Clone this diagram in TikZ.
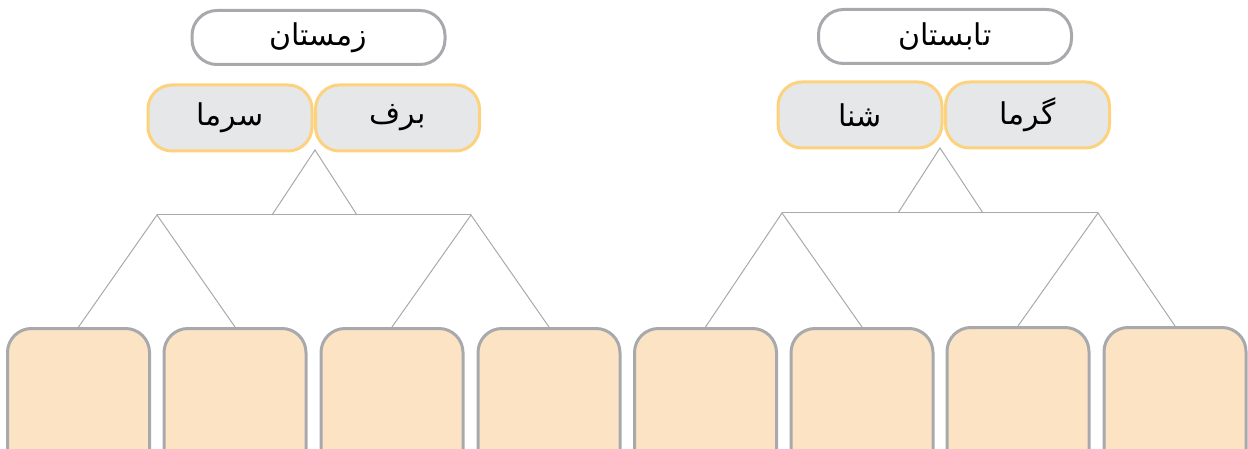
\documentclass[tikz,border=0pt]{standalone}
\usepackage{fontspec}
\newfontfamily\arabicfont[Script=Arabic]{DejaVu Sans}
\TeXXeTstate=1
\definecolor{boxgray}{HTML}{A7A9AC}
\definecolor{midfill}{HTML}{E6E7E8}
\definecolor{midline}{HTML}{FDD27F}
\definecolor{botfill}{HTML}{FCE3C4}
\tikzset{
  titlebox/.style={draw=boxgray,line width=3pt,fill=white,rounded corners=25pt,minimum width=253pt,minimum height=54pt,inner sep=0pt,font=\arabicfont\fontsize{30}{34}\selectfont},
  wordbox/.style={draw=midline,line width=3pt,fill=midfill,rounded corners=24pt,minimum width=164pt,minimum height=66pt,inner sep=0pt,font=\arabicfont\fontsize{30}{34}\selectfont},
  emptybox/.style={draw=boxgray,line width=3pt,fill=botfill,rounded corners=24pt,minimum width=142pt,minimum height=150pt,inner sep=0pt,anchor=north},
  link/.style={draw=boxgray,line width=1pt}
}
\begin{document}
\begin{tikzpicture}[x=1pt,y=-1pt]
\useasboundingbox (0,0) rectangle (1248,449);
\clip (0,0) rectangle (1248,449);
% top boxes
\node[titlebox] (zemestan) at (318.5,37.5) {\beginR زمستان\endR};
\node[titlebox] (tabestan) at (945,36.5) {\beginR تابستان\endR};
% word boxes
\node[wordbox] (sarma) at (230,118) {\beginR سرما\endR};
\node[wordbox] (barf) at (397.5,118) {\beginR برف\endR};
\node[wordbox] (shena) at (860,115) {\beginR شنا\endR};
\node[wordbox] (garma) at (1027.5,115) {\beginR گرما\endR};
% bottom boxes
\node[emptybox] (b1) at (78.5,327) {};
\node[emptybox] (b2) at (235,327) {};
\node[emptybox] (b3) at (392,327) {};
\node[emptybox] (b4) at (549,327) {};
\node[emptybox] (b5) at (705.5,327) {};
\node[emptybox] (b6) at (862,327) {};
\node[emptybox] (b7) at (1018,326) {};
\node[emptybox] (b8) at (1175,326) {};
% left tree
\coordinate (apexL) at (315,150);
\coordinate (tL1) at (272,215);
\coordinate (tL2) at (357,215);
\coordinate (jL1) at (157,215);
\coordinate (jL2) at (471,215);
\draw[link] (tL1) -- (apexL) -- (tL2);
\draw[link] (jL1) -- (jL2);
\draw[link] (b1.north) -- (jL1) -- (b2.north);
\draw[link] (b3.north) -- (jL2) -- (b4.north);
% right tree
\coordinate (apexR) at (940,148);
\coordinate (tR1) at (898,213);
\coordinate (tR2) at (983,213);
\coordinate (jR1) at (782,213);
\coordinate (jR2) at (1098,213);
\draw[link] (tR1) -- (apexR) -- (tR2);
\draw[link] (jR1) -- (jR2);
\draw[link] (b5.north) -- (jR1) -- (b6.north);
\draw[link] (b7.north) -- (jR2) -- (b8.north);
\end{tikzpicture}
\end{document}
